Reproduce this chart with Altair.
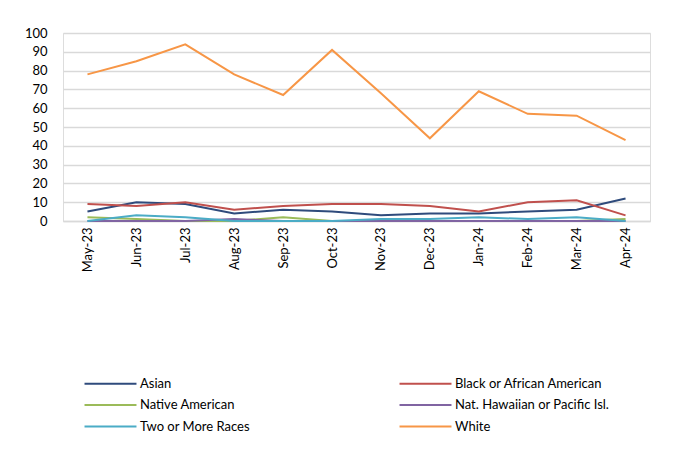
import altair as alt
import pandas as pd

months = ["May-23", "Jun-23", "Jul-23", "Aug-23", "Sep-23", "Oct-23",
          "Nov-23", "Dec-23", "Jan-24", "Feb-24", "Mar-24", "Apr-24"]
series = ["Asian", "Black or African American", "Native American",
          "Nat. Hawaiian or Pacific Isl.", "Two or More Races", "White"]
asian = [5, 10, 9, 4, 6, 5, 3, 4, 4, 5, 6, 12]
black = [9, 8, 10, 6, 8, 9, 9, 8, 5, 10, 11, 3]
native = [2, 1, 0, 0, 2, 0, 0, 0, 0, 0, 0, 1]
hawaiian = [0, 0, 0, 1, 0, 0, 0, 0, 0, 0, 0, 0]
two_more = [0, 3, 2, 0, 0, 0, 1, 1, 2, 1, 2, 0]
white = [78, 85, 94, 78, 67, 91, 68, 44, 69, 57, 56, 43]
colors = ["#2F4B7C", "#C0504D", "#9BBB59", "#8064A2", "#4BACC6", "#F79646"]

values = [asian, black, native, hawaiian, two_more, white]
rows = []
for s, vals in zip(series, values):
    for m, v in zip(months, vals):
        rows.append({"Month": m, "Series": s, "Value": v})
df = pd.DataFrame(rows)

FONT = "Lato"

chart = alt.Chart(df).mark_line(strokeWidth=2).encode(
    x=alt.X("Month:O", sort=months, title=None,
            scale=alt.Scale(type="point", padding=0.5),
            axis=alt.Axis(labelAngle=270, labelAlign="right", labelBaseline="middle",
                          labelPadding=6, ticks=False, domain=True,
                          domainColor="#D9D9D9", domainWidth=1.5, grid=False,
                          labelFontSize=13, labelColor="#000000", labelFont=FONT)),
    y=alt.Y("Value:Q", title=None,
            scale=alt.Scale(domain=[0, 100], nice=False),
            axis=alt.Axis(values=list(range(0, 101, 10)), ticks=False, domain=False,
                          grid=True, gridColor="#D9D9D9", gridWidth=1.5,
                          labelPadding=16, labelFontSize=13, labelColor="#000000",
                          labelFont=FONT)),
    color=alt.Color("Series:N", sort=series,
                    scale=alt.Scale(domain=series, range=colors),
                    legend=alt.Legend(title=None, orient="none", legendX=41, legendY=344,
                                      direction="horizontal",
                                      columns=2, columnPadding=145, rowPadding=7.5,
                                      symbolType="M-5,0H5", symbolSize=108,
                                      symbolStrokeWidth=2, labelFontSize=13,
                                      labelFont=FONT, labelColor="#000000",
                                      labelOffset=23, labelLimit=300)),
).properties(
    width=587, height=188,
    autosize=alt.AutoSizeParams(type="none"),
    padding={"left": 55, "top": 25, "right": 15, "bottom": 222},
).configure_view(stroke=None).configure(background="white")

chart.save("out.html", embed_options={"renderer": "svg", "actions": False})
